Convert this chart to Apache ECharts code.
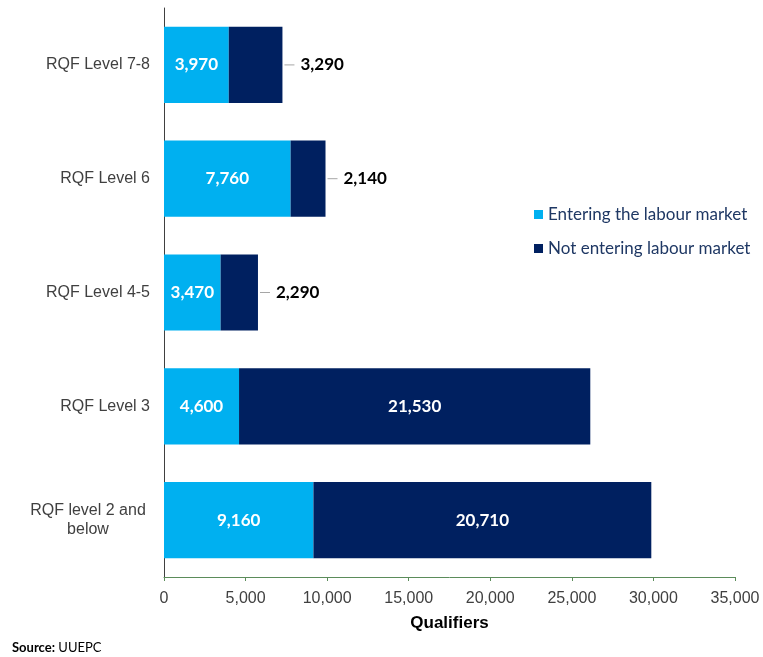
<!DOCTYPE html>
<html>
<head>
<meta charset="utf-8">
<script src="https://cdn.jsdelivr.net/npm/echarts@6/dist/echarts.min.js"></script>
<style>
  html, body { margin: 0; padding: 0; background: #fff; }
  #chart { width: 763px; height: 657px; }
</style>
</head>
<body>
<div id="chart"></div>
<script>
// Qualifiers by RQF level, split by labour market destination
const categories = ['RQF level 2 and below', 'RQF Level 3', 'RQF Level 4-5', 'RQF Level 6', 'RQF Level 7-8'];
const entering = [9160, 4600, 3470, 7760, 3970];
const notEntering = [20710, 21530, 2290, 2140, 3290];
const xTicks = [0, 5000, 10000, 15000, 20000, 25000, 30000, 35000];

const LIGHT = '#00B0F0';
const DARK = '#002060';
const fmt = v => v.toLocaleString('en-US');

// Short values of the dark series sit outside the bar with a small leader line
const darkData = notEntering.map(v => {
  const small = v < 5000;
  return {
    value: v,
    label: small ? {
      position: 'right',
      distance: 2,
      color: '#000',
      formatter: p => '{ln|}{t|' + fmt(p.value) + '}',
      rich: {
        ln: { width: 10, height: 1, backgroundColor: '#a6a6a6' },
        t: { fontFamily: 'Lato', fontWeight: 'bold', fontSize: 17, color: '#000', padding: [0, 0, 0, 6] }
      }
    } : { position: 'inside', color: '#fff' }
  };
});

const chart = echarts.init(document.getElementById('chart'));
chart.setOption({
  animation: false,
  grid: { left: 164, right: 28, top: 8, bottom: 80 },
  legend: {
    orient: 'vertical',
    left: 529,
    top: 201,
    itemWidth: 9,
    itemHeight: 9,
    itemGap: 17,
    icon: 'rect',
    textStyle: { fontFamily: 'Lato', fontSize: 17, color: '#1F3864', padding: [0, 0, 0, 0] },
    data: ['Entering the labour market', 'Not entering labour market']
  },
  xAxis: {
    type: 'value',
    min: xTicks[0],
    max: xTicks[xTicks.length - 1],
    interval: 5000,
    name: 'Qualifiers',
    nameLocation: 'middle',
    nameGap: 38,
    nameTextStyle: { fontFamily: 'Liberation Sans', fontWeight: 'bold', fontSize: 17, color: '#000' },
    axisLine: { show: true, lineStyle: { color: '#5b8c5a', width: 1 } },
    axisTick: { show: true, length: 4, lineStyle: { color: '#5b8c5a' } },
    splitLine: { show: false },
    axisLabel: {
      fontFamily: 'Liberation Sans', fontSize: 16, color: '#404040', margin: 14,
      formatter: v => fmt(v)
    }
  },
  yAxis: {
    type: 'category',
    data: categories,
    axisLine: { show: true, lineStyle: { color: '#404040', width: 1 } },
    axisTick: { show: false },
    axisLabel: {
      fontFamily: 'Liberation Sans', fontSize: 16, color: '#404040', margin: 14,
      formatter: v => v === 'RQF level 2 and below'
        ? '{c|RQF level 2 and}\n{c|below}'
        : v,
      rich: {
        c: { width: 124, align: 'center', fontFamily: 'Liberation Sans', fontSize: 16, color: '#404040', lineHeight: 19 }
      }
    }
  },
  series: [
    {
      name: 'Entering the labour market',
      type: 'bar',
      stack: 'total',
      barCategoryGap: '33%',
      itemStyle: { color: LIGHT },
      label: {
        show: true, position: 'inside', color: '#fff',
        fontFamily: 'Lato', fontWeight: 'bold', fontSize: 17,
        formatter: p => fmt(p.value)
      },
      data: entering
    },
    {
      name: 'Not entering labour market',
      type: 'bar',
      stack: 'total',
      itemStyle: { color: DARK },
      label: {
        show: true, color: '#fff',
        fontFamily: 'Lato', fontWeight: 'bold', fontSize: 17,
        formatter: p => fmt(p.value)
      },
      data: darkData
    }
  ],
  graphic: [
    {
      type: 'text',
      left: 12,
      top: 641,
      style: {
        text: '{b|Source:} {n|UUEPC}',
        rich: {
          b: { fontFamily: 'Lato', fontWeight: 'bold', fontSize: 13, fill: '#000' },
          n: { fontFamily: 'Lato', fontSize: 13, fill: '#000' }
        }
      }
    }
  ]
});
</script>
</body>
</html>
